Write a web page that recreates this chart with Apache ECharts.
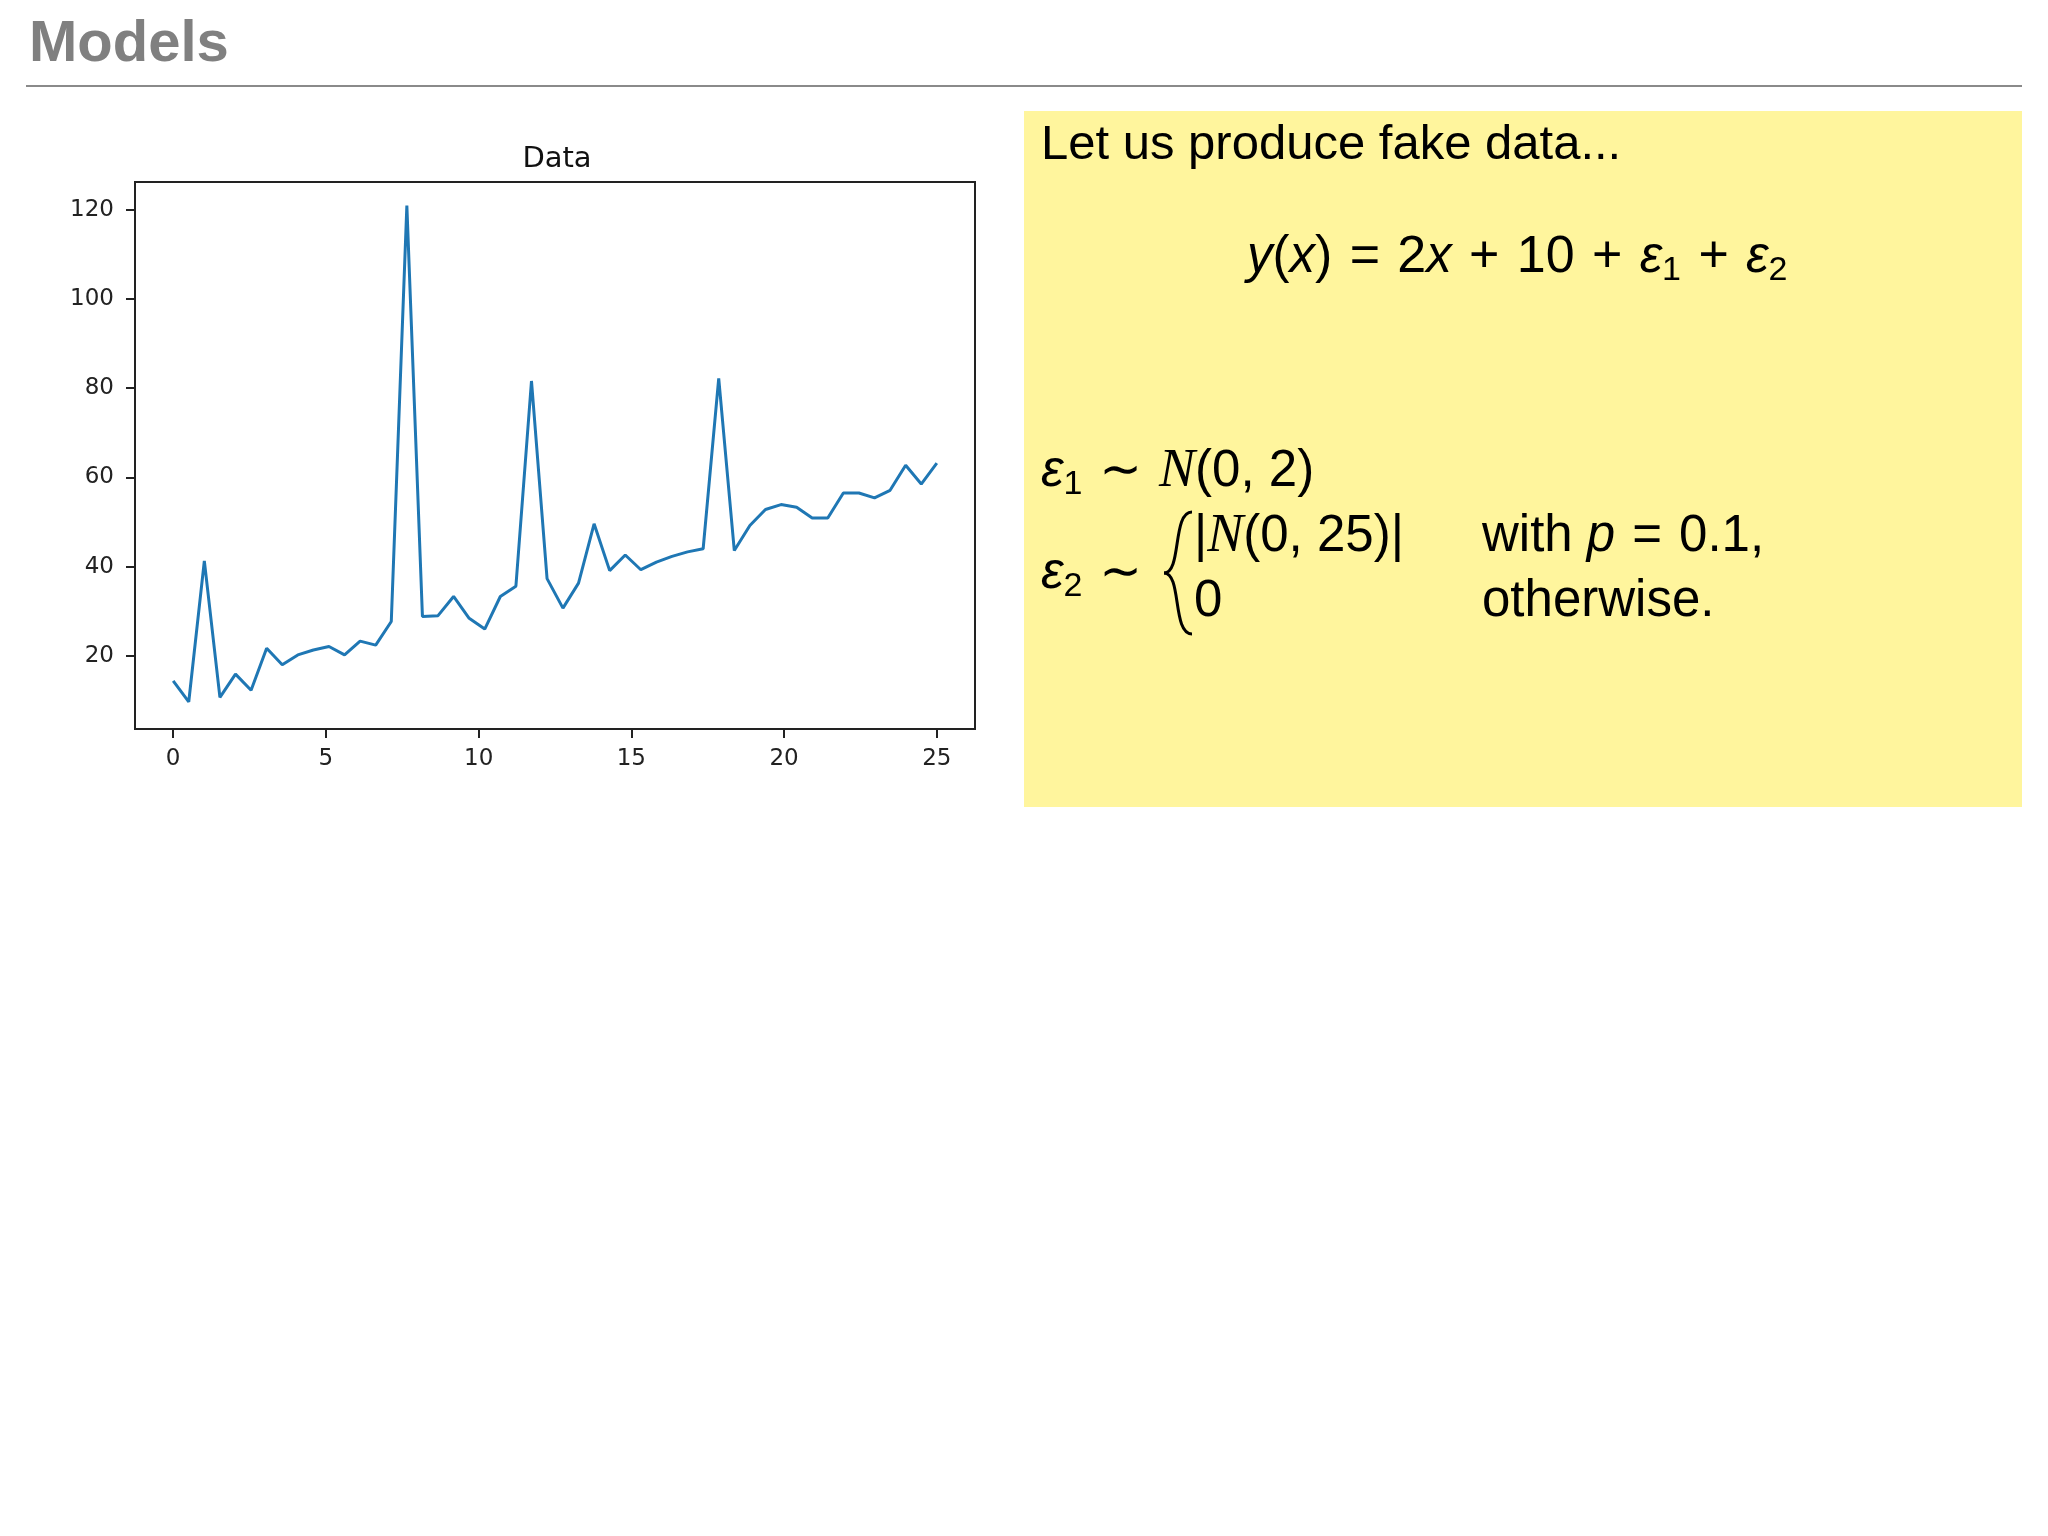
<!DOCTYPE html>
<html>
<head>
<meta charset="utf-8">
<script src="https://cdn.jsdelivr.net/npm/echarts@6/dist/echarts.min.js"></script>
<style>
  html, body { margin: 0; padding: 0; background: #fff; }
  #main { width: 2048px; height: 1536px; }
</style>
</head>
<body>
<div id="main"></div>
<script>
// x = linspace(0, 25, 50)
const xValues = [
  0.00, 0.51, 1.02, 1.53, 2.04, 2.55, 3.06, 3.57, 4.08, 4.59,
  5.10, 5.61, 6.12, 6.63, 7.14, 7.65, 8.16, 8.67, 9.18, 9.69,
  10.20, 10.71, 11.22, 11.73, 12.24, 12.76, 13.27, 13.78, 14.29, 14.80,
  15.31, 15.82, 16.33, 16.84, 17.35, 17.86, 18.37, 18.88, 19.39, 19.90,
  20.41, 20.92, 21.43, 21.94, 22.45, 22.96, 23.47, 23.98, 24.49, 25.00
];
const yValues = [
  14.4, 9.7, 41.3, 10.7, 15.9, 12.3, 21.7, 18.0, 20.2, 21.3,
  22.1, 20.2, 23.3, 22.4, 27.7, 120.9, 28.8, 29.0, 33.3, 28.4,
  26.0, 33.3, 35.6, 81.6, 37.3, 30.7, 36.3, 49.6, 39.1, 42.6,
  39.3, 41.0, 42.3, 43.3, 44.0, 82.2, 43.6, 49.2, 52.8, 53.9,
  53.3, 50.9, 50.9, 56.5, 56.5, 55.4, 57.1, 62.7, 58.5, 63.2
];
const xTicks = [0, 5, 10, 15, 20, 25];
const yTicks = [20, 40, 60, 80, 100, 120];

const chart = echarts.init(document.getElementById('main'));

const slideFont = "'Liberation Sans', 'DejaVu Sans', sans-serif";
const plotFont = "'DejaVu Sans', sans-serif";
const sp = '\u2004'; // a bit wider than a normal space, for math operators

const mathRich = {
  n: { fontFamily: slideFont, fontSize: 51, lineHeight: 60, verticalAlign: 'middle', fill: '#000' },
  f: { fontFamily: slideFont, fontSize: 52, lineHeight: 60, verticalAlign: 'middle', fill: '#000' },
  i: { fontFamily: slideFont, fontSize: 51, fontStyle: 'italic', lineHeight: 60, verticalAlign: 'middle', fill: '#000' },
  c: { fontFamily: "'Liberation Serif', 'DejaVu Serif', serif", fontSize: 54, fontStyle: 'italic', lineHeight: 60, verticalAlign: 'middle', fill: '#000' },
  s: { fontFamily: slideFont, fontSize: 34, lineHeight: 34, verticalAlign: 'bottom', fill: '#000' }
};

function mathText(x, y, text) {
  return {
    type: 'text',
    x: x, y: y,
    style: {
      text: text,
      rich: mathRich,
      fontFamily: slideFont,
      fontSize: 51,
      fill: '#000',
      textAlign: 'left',
      textVerticalAlign: 'middle'
    }
  };
}

const data = xValues.map((x, i) => [x, yValues[i]]);

chart.setOption({
  backgroundColor: '#fff',
  animation: false,
  title: {
    text: 'Data',
    left: 552,
    top: 140,
    textAlign: 'center',
    textStyle: { fontFamily: plotFont, fontSize: 29, fontWeight: 'normal', color: '#111' }
  },
  grid: {
    left: 135, top: 182, width: 840, height: 547,
    show: true, borderColor: '#222', borderWidth: 2, backgroundColor: '#fff'
  },
  xAxis: {
    type: 'value',
    min: -1.25, max: 26.25,
    splitLine: { show: false },
    axisLine: { show: true, onZero: false, lineStyle: { color: '#222', width: 2 } },
    axisTick: { show: true, customValues: xTicks, length: 9, lineStyle: { color: '#222', width: 2 } },
    axisLabel: { customValues: xTicks, margin: 19, fontFamily: plotFont, fontSize: 23, color: '#222' }
  },
  yAxis: {
    type: 'value',
    min: 3.6, max: 126.2,
    splitLine: { show: false },
    axisLine: { show: true, onZero: false, lineStyle: { color: '#222', width: 2 } },
    axisTick: { show: true, customValues: yTicks, length: 9, lineStyle: { color: '#222', width: 2 } },
    axisLabel: { customValues: yTicks, margin: 21, fontFamily: plotFont, fontSize: 23, color: '#222' }
  },
  series: [{
    type: 'line',
    data: data,
    symbol: 'none',
    lineStyle: { color: '#1f77b4', width: 3 },
    silent: true
  }],
  graphic: [
    {
      type: 'text', x: 29, y: 45,
      style: {
        text: 'Models', fontFamily: slideFont, fontSize: 58, fontWeight: 'bold',
        fill: '#808080', textAlign: 'left', textVerticalAlign: 'middle'
      }
    },
    {
      type: 'line',
      shape: { x1: 26, y1: 86, x2: 2022, y2: 86 },
      style: { stroke: '#8a8a8a', lineWidth: 2 }
    },
    {
      type: 'rect',
      shape: { x: 1024, y: 111, width: 998, height: 696 },
      style: { fill: '#fff59d' },
      z: -1
    },
    {
      type: 'text', x: 1041, y: 145,
      style: {
        text: 'Let us produce fake data...', fontFamily: slideFont, fontSize: 49,
        fill: '#000', textAlign: 'left', textVerticalAlign: 'middle'
      }
    },
    mathText(1247, 258,
      '{i|y}{n|(}{i|x}{f|)' + sp + '=' + sp + '2}{i|x}{f|' + sp + '+' + sp + '10' + sp + '+' + sp + '}' +
      '{i|ε}{s|1}{f|' + sp + '+' + sp + '}{i|ε}{s|2}'),
    mathText(1041, 472, '{i|ε}{s|1}{n|' + sp + '∼' + sp + '}{c|N}{n|(0, 2)}'),
    mathText(1041, 574, '{i|ε}{s|2}{n|' + sp + '∼}'),
    {
      type: 'bezierCurve',
      shape: { x1: 1192, y1: 512, cpx1: 1172, cpy1: 512, cpx2: 1182, cpy2: 573, x2: 1164, y2: 573 },
      style: { stroke: '#000', lineWidth: 3, fill: null }
    },
    {
      type: 'bezierCurve',
      shape: { x1: 1164, y1: 573, cpx1: 1182, cpy1: 573, cpx2: 1172, cpy2: 634, x2: 1192, y2: 634 },
      style: { stroke: '#000', lineWidth: 3, fill: null }
    },
    mathText(1194, 537, '{n||}{c|N}{n|(0, 25)|}'),
    mathText(1482, 537, '{n|with }{i|p}{n|' + sp + '=' + sp + '0.1,}'),
    mathText(1194, 602, '{n|0}'),
    mathText(1482, 602, '{n|otherwise.}')
  ]
});
</script>
</body>
</html>
